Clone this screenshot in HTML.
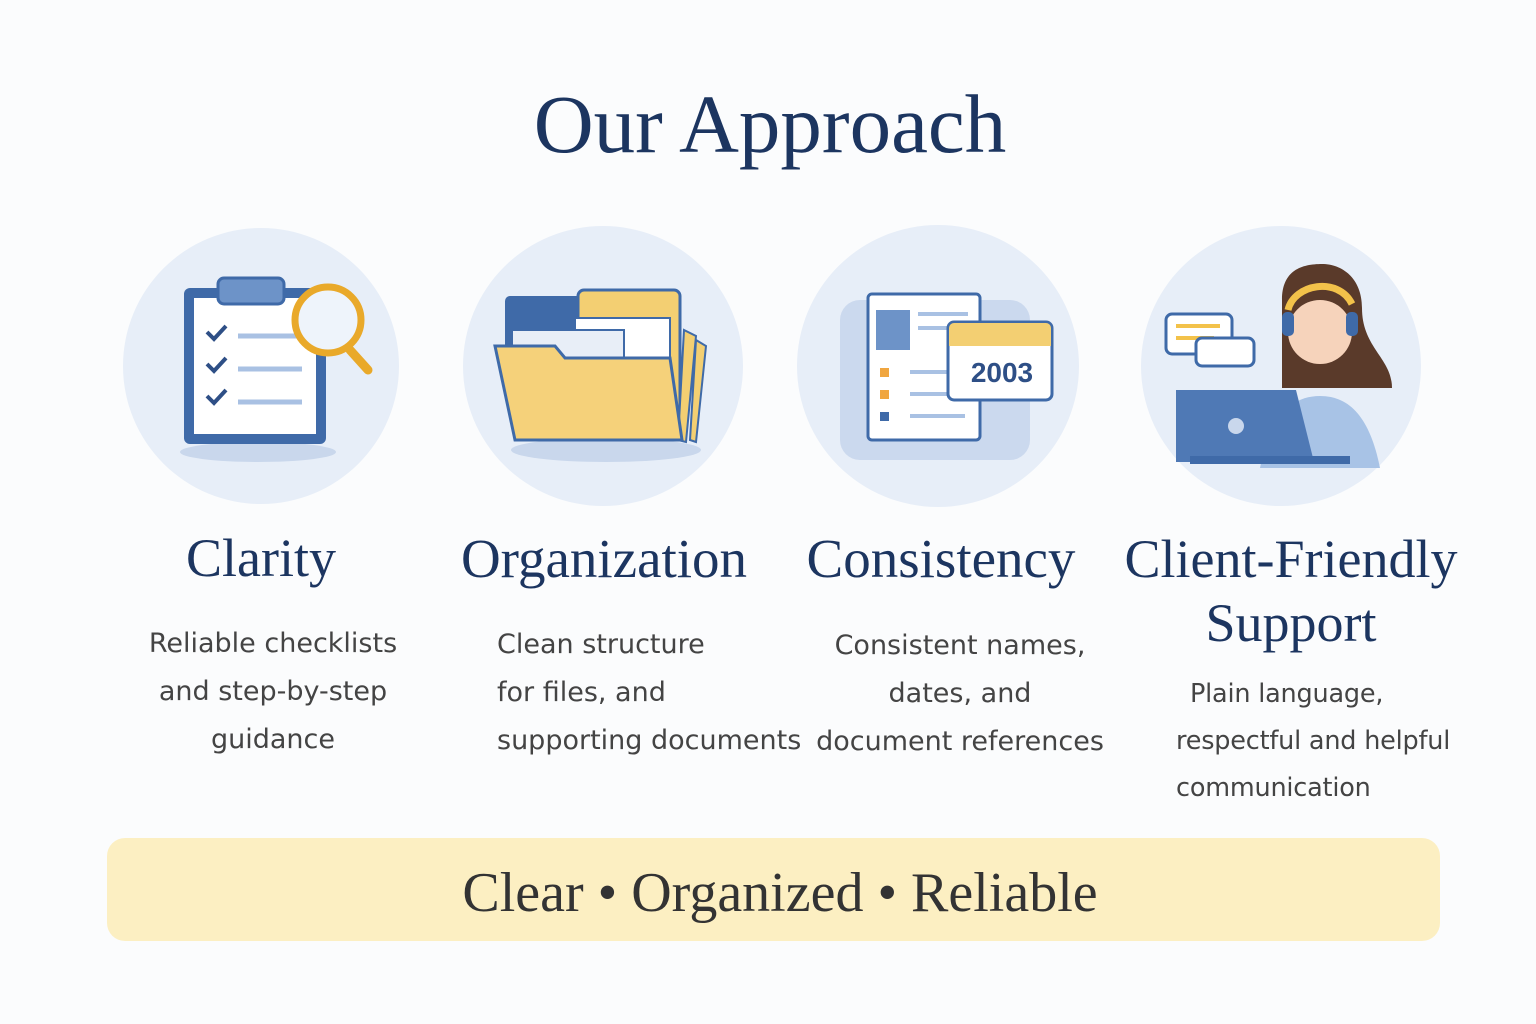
<!DOCTYPE html>
<html><head><meta charset="utf-8"><style>
html,body{margin:0;padding:0;}
body{width:1536px;height:1024px;background:#fbfcfd;position:relative;overflow:hidden;font-family:"Liberation Sans",sans-serif;}
.t{position:absolute;white-space:nowrap;}
.serif{font-family:"Liberation Serif",serif;color:#1c3560;}
.body{font-family:"DejaVu Sans","Liberation Sans",sans-serif;font-size:27px;color:#444;line-height:48px;}
</style></head><body>
<div class="t serif" style="left:0;width:1540px;text-align:center;top:76px;font-size:83px;">Our Approach</div>

<svg style="position:absolute;left:0;top:0" width="1536" height="1024">
<circle cx="261" cy="366" r="138" fill="#e7eef8"/>
<circle cx="603" cy="366" r="140" fill="#e7eef8"/>
<circle cx="938" cy="366" r="141" fill="#e7eef8"/>
<circle cx="1281" cy="366" r="140" fill="#e7eef8"/>
<ellipse cx="258" cy="452" rx="78" ry="10" fill="#c9d7ec"/>
<rect x="184" y="288" width="142" height="156" rx="6" fill="#3f6aa8"/>
<rect x="194" y="298" width="122" height="136" fill="#fff"/>
<rect x="218" y="278" width="66" height="26" rx="6" fill="#6d93c8" stroke="#3f6aa8" stroke-width="3"/>
<g stroke="#2e4f86" stroke-width="4" fill="none"><path d="M207 332l7 7 12-13M207 364l7 7 12-13M207 396l7 7 12-13"/></g>
<g stroke="#a9c1e3" stroke-width="5"><line x1="238" y1="336" x2="300" y2="336"/><line x1="238" y1="369" x2="302" y2="369"/><line x1="238" y1="402" x2="302" y2="402"/></g>
<line x1="350" y1="350" x2="368" y2="370" stroke="#e9a92a" stroke-width="9" stroke-linecap="round"/>
<circle cx="328" cy="320" r="33" fill="#eef4fb" stroke="#e9a92a" stroke-width="7"/>
<ellipse cx="606" cy="450" rx="95" ry="12" fill="#c9d7ec"/>
<rect x="505" y="296" width="88" height="60" rx="5" fill="#3f6aa8"/>
<rect x="578" y="290" width="102" height="150" rx="6" fill="#f3cf72" stroke="#3f6aa8" stroke-width="3"/>
<rect x="575" y="318" width="95" height="70" fill="#fff" stroke="#3f6aa8" stroke-width="2"/>
<rect x="512" y="330" width="112" height="40" fill="#e8eef7" stroke="#3f6aa8" stroke-width="2"/>
<path d="M684 330l12 6-10 106-8-2zM696 340l10 6-10 96-6-2z" fill="#f3cf72" stroke="#3f6aa8" stroke-width="2"/>
<path d="M495 346h60l10 12h105l12 82H515z" fill="#f5d17a" stroke="#3f6aa8" stroke-width="3"/>
<rect x="840" y="300" width="190" height="160" rx="20" fill="#cbd9ee"/>
<rect x="868" y="294" width="112" height="146" rx="4" fill="#fff" stroke="#3f6aa8" stroke-width="3"/>
<rect x="876" y="310" width="34" height="40" fill="#6d93c8"/>
<rect x="880" y="368" width="9" height="9" fill="#f0a640"/><rect x="880" y="390" width="9" height="9" fill="#f0a640"/><rect x="880" y="412" width="9" height="9" fill="#3f6aa8"/>
<g stroke="#a9c1e3" stroke-width="4"><line x1="918" y1="314" x2="968" y2="314"/><line x1="918" y1="328" x2="960" y2="328"/><line x1="910" y1="372" x2="948" y2="372"/><line x1="910" y1="394" x2="948" y2="394"/><line x1="910" y1="416" x2="965" y2="416"/></g>
<rect x="948" y="322" width="104" height="78" rx="6" fill="#fff" stroke="#3f6aa8" stroke-width="3"/>
<path d="M949 328a5 5 0 0 1 5-5h92a5 5 0 0 1 5 5v18h-102z" fill="#f3cf72"/>
<text x="1002" y="382" text-anchor="middle" font-family="Liberation Sans" font-weight="bold" font-size="28" fill="#2e4f86">2003</text>
<rect x="1166" y="314" width="66" height="40" rx="6" fill="#fff" stroke="#3f6aa8" stroke-width="3"/>
<g stroke="#f3c24a" stroke-width="4"><line x1="1176" y1="326" x2="1220" y2="326"/><line x1="1176" y1="338" x2="1214" y2="338"/></g>
<rect x="1196" y="338" width="58" height="28" rx="6" fill="#fff" stroke="#3f6aa8" stroke-width="3"/>
<path d="M1282 300c0-30 20-36 40-36s40 14 40 44c0 40 30 50 30 80h-110z" fill="#5a3a2a"/>
<path d="M1260 468c10-50 30-72 60-72s50 22 60 72z" fill="#a8c3e6"/>
<circle cx="1320" cy="332" r="32" fill="#f6d3bb"/>
<path d="M1288 310c6-26 50-34 64-6" fill="none" stroke="#f3c24a" stroke-width="7"/>
<rect x="1282" y="312" width="12" height="24" rx="5" fill="#3f6aa8"/><rect x="1346" y="312" width="12" height="24" rx="5" fill="#3f6aa8"/>
<path d="M1176 390h120l18 72h-138z" fill="#4f79b5"/>
<rect x="1190" y="456" width="160" height="8" fill="#3f6aa8"/>
<circle cx="1236" cy="426" r="8" fill="#c9d7ec"/>
</svg>

<div class="t serif" style="left:161px;width:200px;text-align:center;top:527px;font-size:54px;">Clarity</div>
<div class="t serif" style="left:404px;width:400px;text-align:center;top:527px;font-size:55px;">Organization</div>
<div class="t serif" style="left:741px;width:400px;text-align:center;top:527px;font-size:55px;">Consistency</div>
<div class="t serif" style="left:1091px;width:400px;text-align:center;top:527px;font-size:54px;line-height:64px;">Client-Friendly<br>Support</div>

<div class="t body" style="left:123px;width:300px;text-align:center;top:620px;">Reliable checklists<br>and step-by-step<br>guidance</div>
<div class="t body" style="left:497px;top:621px;">Clean structure<br>for files, and<br>supporting documents</div>
<div class="t body" style="left:810px;width:300px;text-align:center;top:622px;">Consistent names,<br>dates, and<br>document references</div>
<div class="t body" style="left:1176px;top:671px;line-height:47px;font-size:25.5px;letter-spacing:-0.2px;"><span style="padding-left:14px">Plain language,</span><br>respectful and helpful<br>communication</div>

<div style="position:absolute;left:107px;top:838px;width:1333px;height:103px;border-radius:18px;background:#fcefc2;"></div>
<div class="t" style="left:107px;width:1346px;text-align:center;top:861px;font-family:'Liberation Serif',serif;font-size:56px;color:#333;">Clear • Organized • Reliable</div>
</body></html>
